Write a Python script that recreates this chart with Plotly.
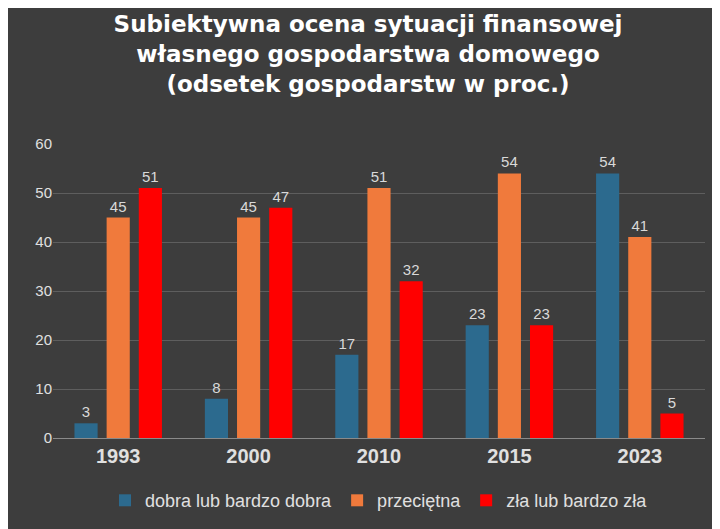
import plotly.graph_objects as go

years = ["1993", "2000", "2010", "2015", "2023"]
dobra = [3, 8, 17, 23, 54]
przecietna = [45, 45, 51, 54, 41]
zla = [51, 47, 32, 23, 5]

series = [
    ("dobra lub bardzo dobra", dobra, "#2c6a8e"),
    ("przeciętna", przecietna, "#f07a3c"),
    ("zła lub bardzo zła", zla, "#ff0000"),
]

fig = go.Figure()
for name, vals, col in series:
    fig.add_trace(go.Bar(
        x=years, y=vals, name=name, marker=dict(color=col, line=dict(width=0)),
        text=vals, textposition="outside", cliponaxis=False,
        textfont=dict(color="#d9d9d9", size=15, family="Liberation Sans"),
    ))

fig.update_layout(
    width=720, height=529,
    paper_bgcolor="#3d3d3d", plot_bgcolor="#3d3d3d",
    barmode="group", bargap=0.26, bargroupgap=0.28,
    margin=dict(l=45, r=23, t=136, b=99),
    title=dict(
        text="<b>Subiektywna ocena sytuacji finansowej<br>własnego gospodarstwa domowego<br>(odsetek gospodarstw w proc.)</b>",
        x=0.5, xanchor="center", y=0.955, yanchor="top",
        font=dict(color="white", size=23, family="DejaVu Sans"),
    ),
    xaxis=dict(tickfont=dict(color="#e0e0e0", size=20, family="Liberation Sans"),
               showline=True, linecolor="#8a8a8a", ticks="", tickprefix="<b>", ticksuffix="</b>"),
    yaxis=dict(range=[0, 60], dtick=10, gridcolor="#5e5e5e", zeroline=False,
               tickfont=dict(color="#e0e0e0", size=15, family="Liberation Sans")),
    legend=dict(orientation="h", x=0.5, xanchor="center", y=-0.15, yanchor="top",
                font=dict(color="#e0e0e0", size=18, family="Liberation Sans")),
)
fig.write_html("out.html")
